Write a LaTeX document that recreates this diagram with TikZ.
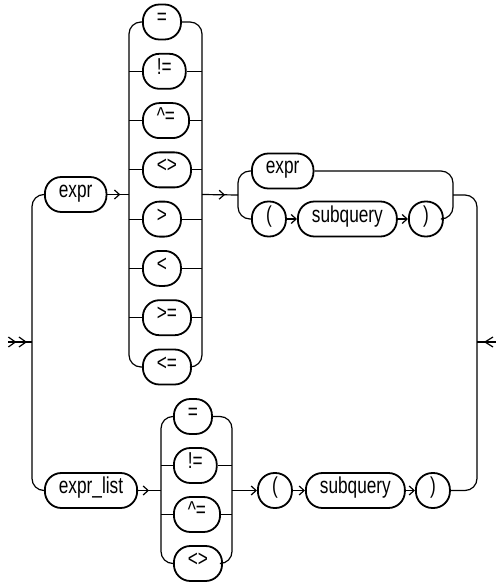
\documentclass[tikz,border=0pt]{standalone}
\usepackage{fontspec}
\usepackage{tikz}
\usetikzlibrary{positioning,calc,arrows.meta,decorations.markings}
\newfontfamily\railfont[FakeStretch=0.75]{Liberation Sans}
\newcommand{\rnode}[3]{\node [term] (#1) at (#2) {#3}}
\tikzset{
  term/.style={draw, line width=1.8pt, rounded corners=16.5pt, anchor=west,
    minimum height=35pt, minimum width=34pt, inner xsep=14pt, inner ysep=0pt,
    text height=13pt, text depth=7pt, font=\railfont\fontsize{23}{26}\selectfont},
  rail/.style={line width=1.2pt, rounded corners=12pt},
  >={Straight Barb[length=5pt,width=9pt]},
  arr/.style={postaction={decorate},
    decoration={markings, mark=at position #1 with {\arrow{>}}}}
}

\begin{document}
\begin{tikzpicture}[x=1pt,y=-1pt]
\useasboundingbox (0,0) rectangle (497,585);

\rnode{expr1}{44,194.5}{expr};
\rnode{eq1}{142,22}{=};
\rnode{ne1}{142,71.3}{!=};
\rnode{ce1}{142,120.6}{\textasciicircum=};
\rnode{lg1}{142,169.9}{<>};
\rnode{gt1}{142,219.1}{>};
\rnode{lt1}{142,268.4}{<};
\rnode{ge1}{142,317.7}{>=};
\rnode{le1}{142,367}{<=};

\rnode{expr2}{251,171}{expr};
\rnode{lp1}{251,219}{(};
\rnode{sq1}{297,219}{subquery};
\rnode{rp1}{408,219}{)};

\rnode{exprlist}{44,490.5}{expr\_list};
\rnode{eq2}{173,416.5}{=};
\rnode{ne2}{173,465.5}{!=};
\rnode{ce2}{173,514.5}{\textasciicircum=};
\rnode{lg2}{173,563.5}{<>};
\rnode{lp2}{257,490.5}{(};
\rnode{sq2}{305,490.5}{subquery};
\rnode{rp2}{415,490.5}{)};

\coordinate (start) at (8,342);
\coordinate (ml) at (32,342);
\coordinate (mr) at (477,342);
\coordinate (stop) at (496,342);
\coordinate (b1l) at (129,194.5);
\coordinate (b1r) at (202,194.5);
\coordinate (b2l) at (238,195);
\coordinate (b2r) at (453,195);
\coordinate (b3l) at (161,490.5);
\coordinate (b3r) at (232,490.5);

\draw[rail] (start) -- (ml);
\draw[rail, -{Straight Barb[length=7pt,width=10pt,sep=2pt] Straight Barb[length=7pt,width=10pt]}, shorten >=5pt] (start) -- (ml);
\draw[rail] (expr1.west) -| (ml) |- (exprlist.west);

\draw[rail, arr=13pt] (expr1) -- (b1l);
\draw[rail] (eq1.west) -| (b1l) |- (le1.west);
\draw[rail] (eq1.east) -| (b1r) |- (le1.east);
\draw[rail] (ne1.west) -- (ne1.west -| b1l) (ne1.east) -- (ne1.east -| b1r);
\draw[rail] (ce1.west) -- (ce1.west -| b1l) (ce1.east) -- (ce1.east -| b1r);
\draw[rail] (lg1.west) -- (lg1.west -| b1l) (lg1.east) -- (lg1.east -| b1r);
\draw[rail] (gt1.west) -- (gt1.west -| b1l) (gt1.east) -- (gt1.east -| b1r);
\draw[rail] (lt1.west) -- (lt1.west -| b1l) (lt1.east) -- (lt1.east -| b1r);
\draw[rail] (ge1.west) -- (ge1.west -| b1l) (ge1.east) -- (ge1.east -| b1r);

\draw[rail, arr=-13pt] (b1r) -- (b2l);
\draw[rail] (expr2.west) -| (b2l) |- (lp1.west);
\draw[rail] (expr2.east) -| (b2r) |- (rp1.east);
\draw[rail, ->] (lp1) -- (sq1);
\draw[rail, ->] (sq1) -- (rp1);

\draw[rail, arr=11pt] (exprlist) -- (b3l);
\draw[rail] (eq2.west) -| (b3l) |- (lg2.west);
\draw[rail] (eq2.east) -| (b3r) |- (lg2.east);
\draw[rail] (ne2.west) -- (ne2.west -| b3l) (ne2.east) -- (ne2.east -| b3r);
\draw[rail] (ce2.west) -- (ce2.west -| b3l) (ce2.east) -- (ce2.east -| b3r);
\draw[rail, ->] (b3r) -- (lp2);
\draw[rail, ->] (lp2) -- (sq2);
\draw[rail, ->] (sq2) -- (rp2);

\draw[rail] (b2r) -| (mr) |- (rp2.east);
\draw[rail] (mr) -- (stop);
\draw[rail, sharp corners] ($(mr)+(16,-5)$) -- ($(mr)+(8,0)$) -- ($(mr)+(16,5)$);

\end{tikzpicture}
\end{document}
